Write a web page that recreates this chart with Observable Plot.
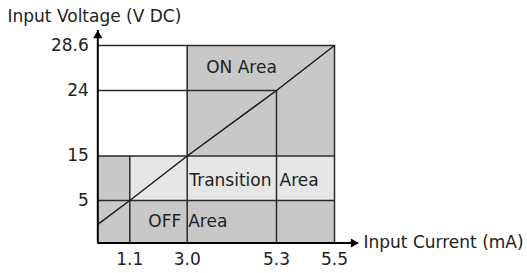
<!DOCTYPE html>
<html>
<head>
<meta charset="utf-8">
<script src="https://cdn.jsdelivr.net/npm/d3@7"></script>
<script src="https://cdn.jsdelivr.net/npm/@observablehq/plot@0.6"></script>
<style>
  html, body { margin: 0; padding: 0; background: #fff; }
  svg { display: block; }
</style>
</head>
<body>
<div id="chart"></div>
<script>
// ---- data ----
const xTicks = [1.1, 3.0, 5.3, 5.5];
const xTickLabels = ["1.1", "3.0", "5.3", "5.5"];
const yTicks = [5, 15, 24, 28.6];
const yTickLabels = ["5", "15", "24", "28.6"];
const xAxisEnd = 5.6;
const yAxisEnd = 30;

// zone cells (x1, x2, y1, y2, zone)
const cellX1 = [0, 0, 1.1, 3.0, 3.0];
const cellX2 = [5.5, 1.1, 5.5, 5.5, 5.5];
const cellY1 = [0, 5, 5, 15, 24];
const cellY2 = [5, 15, 15, 24, 28.6];
const cellZone = ["off", "off", "transition", "on", "on"];

// grid segments
const hLineY = [5, 15, 24, 28.6];
const hLineX1 = [0, 0, 0, 0];
const hLineX2 = [5.5, 5.5, 5.3, 5.5];
const vLineX = [1.1, 3.0, 5.3, 5.5];
const vLineY1 = [0, 0, 0, 0];
const vLineY2 = [15, 28.6, 24, 28.6];

// diagonal threshold line
const diagX = [0, 1.1, 3.0, 5.3, 5.5];
const diagY = [2.2, 5, 15, 24, 28.6];

const cells = cellX1.map((x1, i) => ({x1, x2: cellX2[i], y1: cellY1[i], y2: cellY2[i], zone: cellZone[i]}));
const hLines = hLineY.map((y, i) => ({y, x1: hLineX1[i], x2: hLineX2[i]}));
const vLines = vLineX.map((x, i) => ({x, y1: vLineY1[i], y2: vLineY2[i]}));
const diag = diagX.map((x, i) => ({x, y: diagY[i]}));

const zoneColor = {off: "#c8c8c8", transition: "#e6e6e6", on: "#c8c8c8"};
const font = "DejaVu Sans, sans-serif";
const fs = 17;

const chart = Plot.plot({
  width: 527,
  height: 273,
  margin: 0,
  style: {fontFamily: font, fontSize: fs + "px", background: "#fff", color: "#222"},
  x: {type: "linear", domain: [0, 1.1, 3.0, 5.3, 5.5, xAxisEnd], range: [97.3, 129.3, 186.7, 276, 334, 358], axis: null},
  y: {type: "linear", domain: [0, 5, 15, 24, 28.6, yAxisEnd], range: [242.5, 200, 155.5, 90, 45, 30], axis: null},
  marks: [
    Plot.rect(cells, {x1: "x1", x2: "x2", y1: "y1", y2: "y2", fill: d => zoneColor[d.zone]}),
    Plot.ruleY(hLines, {y: "y", x1: "x1", x2: "x2", stroke: "#2a2a2a", strokeWidth: 1.5}),
    Plot.ruleX(vLines, {x: "x", y1: "y1", y2: "y2", stroke: "#2a2a2a", strokeWidth: 1.5}),
    Plot.line(diag, {x: "x", y: "y", stroke: "#1a1a1a", strokeWidth: 1.5}),
    // axes
    Plot.ruleY([0], {x1: 0, x2: xAxisEnd, stroke: "#000", strokeWidth: 2}),
    Plot.ruleX([0], {y1: 0, y2: yAxisEnd, stroke: "#000", strokeWidth: 2}),
    Plot.dot([xAxisEnd], {x: d => d, y: 0, dx: -5, symbol: "triangle", r: 3.4, rotate: 90, fill: "#000", stroke: null}),
    Plot.dot([yAxisEnd], {x: 0, y: d => d, dy: 5, symbol: "triangle", r: 3.4, rotate: 0, fill: "#000", stroke: null}),
    // tick labels
    Plot.text(xTicks, {x: d => d, y: 0, dy: 17, text: (d, i) => xTickLabels[i], fill: "#222", fontSize: fs}),
    Plot.text(yTicks, {x: 0, y: d => d, dx: -9, textAnchor: "end", text: (d, i) => yTickLabels[i], fill: "#222", fontSize: fs}),
    // axis titles
    Plot.text(["Input Current (mA)"], {x: xAxisEnd, y: 0, dx: 5, textAnchor: "start", text: d => d, fill: "#222", fontSize: fs}),
    Plot.text(["Input Voltage (V DC)"], {frameAnchor: "top-left", dx: 7, dy: 9, textAnchor: "start", text: d => d, fill: "#222", fontSize: fs}),
    // zone labels
    Plot.text(["ON Area"], {x: 4.4, y: 26.3, text: d => d, fill: "#222", fontSize: fs}),
    Plot.text(["Transition"], {x: 5.3, y: 10, dx: -5, dy: 2, textAnchor: "end", text: d => d, fill: "#222", fontSize: fs}),
    Plot.text(["Area"], {x: 5.3, y: 10, dx: 3, dy: 2, textAnchor: "start", text: d => d, fill: "#222", fontSize: fs}),
    Plot.text(["OFF"], {x: 3.0, y: 2.5, dx: -6, textAnchor: "end", text: d => d, fill: "#222", fontSize: fs}),
    Plot.text(["Area"], {x: 3.0, y: 2.5, dx: 1, textAnchor: "start", text: d => d, fill: "#222", fontSize: fs})
  ]
});
document.getElementById("chart").appendChild(chart);
</script>
</body>
</html>
